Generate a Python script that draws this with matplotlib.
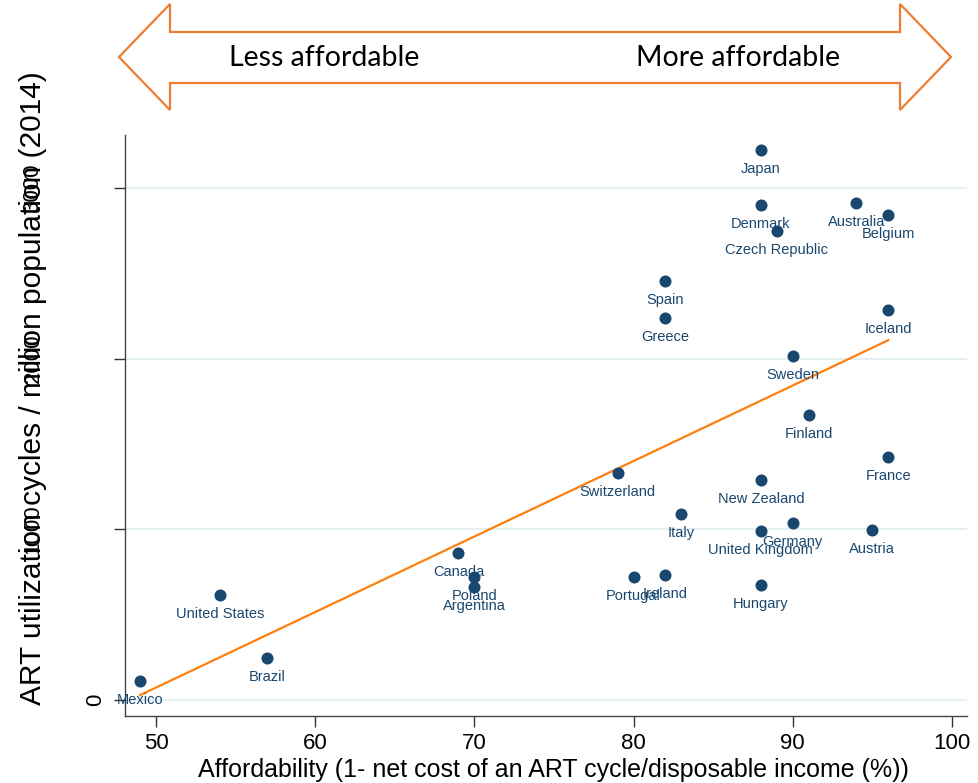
import matplotlib
matplotlib.use("Agg")
import matplotlib.pyplot as plt
import numpy as np
from matplotlib.patches import Polygon

# affordability (%) vs ART cycles per million population, 2014
countries = ["Japan", "Denmark", "Australia", "Belgium", "Czech Republic",
             "Spain", "Greece", "Iceland", "Sweden", "Finland", "France",
             "Switzerland", "New Zealand", "Italy", "Germany",
             "United Kingdom", "Austria", "Canada", "Poland", "Argentina",
             "Portugal", "Ireland", "Hungary", "United States", "Brazil",
             "Mexico"]
affordability = [88, 88, 94, 96, 89, 82, 82, 96, 90, 91, 96, 79, 88, 83,
                 90, 88, 95, 69, 70, 70, 80, 82, 88, 54, 57, 49]
cycles = [3222, 2900, 2912, 2841, 2748, 2455, 2238, 2285, 2015, 1670, 1424,
          1330, 1289, 1090, 1037, 990, 996, 861, 721, 662, 721, 732, 674,
          615, 246, 111]

x_ticks = [50, 60, 70, 80, 90, 100]
y_ticks = [0, 1000, 2000, 3000]

NAVY = "#1a476f"
ORANGE = "#ff7f0e"
GRID = "#e6eff1"
W, H = 979, 783

fig = plt.figure(figsize=(W / 100., H / 100.), dpi=100)
ax = fig.add_axes([125. / W, 1 - 716. / H, 842. / W, 581. / H])

x = np.array(affordability, dtype=float)
y = np.array(cycles, dtype=float)

# horizontal grid
for t in y_ticks:
    ax.axhline(t, color=GRID, linewidth=1.5, zorder=0)

ax.scatter(x, y, s=75, color=NAVY, zorder=3, linewidths=0)
for name, xi, yi in zip(countries, x, y):
    ax.annotate(name, (xi, yi), xytext=(0, -14), textcoords="offset points",
                ha="center", va="center", color=NAVY, fontsize=10.5,
                family="Liberation Sans", zorder=4)

# linear fit
slope, intercept = np.polyfit(x, y, 1)
fx = np.array([x.min(), x.max()])
ax.plot(fx, intercept + slope * fx, color=ORANGE, linewidth=1.6, zorder=2)

ax.set_xlim(48.05, 100.95)
ax.set_ylim(-94, 3310)
ax.set_xticks(x_ticks)
ax.set_xticklabels([str(t) for t in x_ticks], fontsize=16,
                   family="Liberation Sans")
ax.set_yticks(y_ticks)
ax.set_yticklabels([])
ax.tick_params(axis="both", direction="out", length=8, width=1,
               color="#333333")
ax.tick_params(axis="x", pad=4)
for side in ["top", "right"]:
    ax.spines[side].set_visible(False)
for side in ["left", "bottom"]:
    ax.spines[side].set_color("#444444")
    ax.spines[side].set_linewidth(1)

# vertical y tick labels
ytr = ax.get_yaxis_transform()
for t in y_ticks:
    xpos = -29. / 842 if t == 0 else -92. / 842
    ax.text(xpos, t, str(t), transform=ytr, rotation=90, ha="center",
            va="center", fontsize=16, family="Liberation Sans")

fig.text(553. / W, 1 - 770. / H,
         "Affordability (1- net cost of an ART cycle/disposable income (%))",
         ha="center", va="center", fontsize=18, family="Liberation Sans")
fig.text(33. / W, 1 - 388. / H,
         "ART utilization cycles / million population (2014)",
         ha="center", va="center", rotation=90, fontsize=21.5,
         family="Liberation Sans")

# double-headed arrow at the top
pts = [(119, 57), (170, 4), (170, 32), (900, 32), (900, 4), (951, 57),
       (900, 110), (900, 83), (170, 83), (170, 110)]
arrow = Polygon([(px / float(W), 1 - py / float(H)) for px, py in pts],
                closed=True, facecolor="white", edgecolor="#ed7d31",
                linewidth=1.6, transform=fig.transFigure)
fig.add_artist(arrow)
fig.text(324. / W, 1 - 58. / H, "Less affordable", ha="center",
         va="center", fontsize=20.5, family="Lato")
fig.text(738. / W, 1 - 58. / H, "More affordable", ha="center",
         va="center", fontsize=20.5, family="Lato")

fig.savefig("out.png", dpi=100)
